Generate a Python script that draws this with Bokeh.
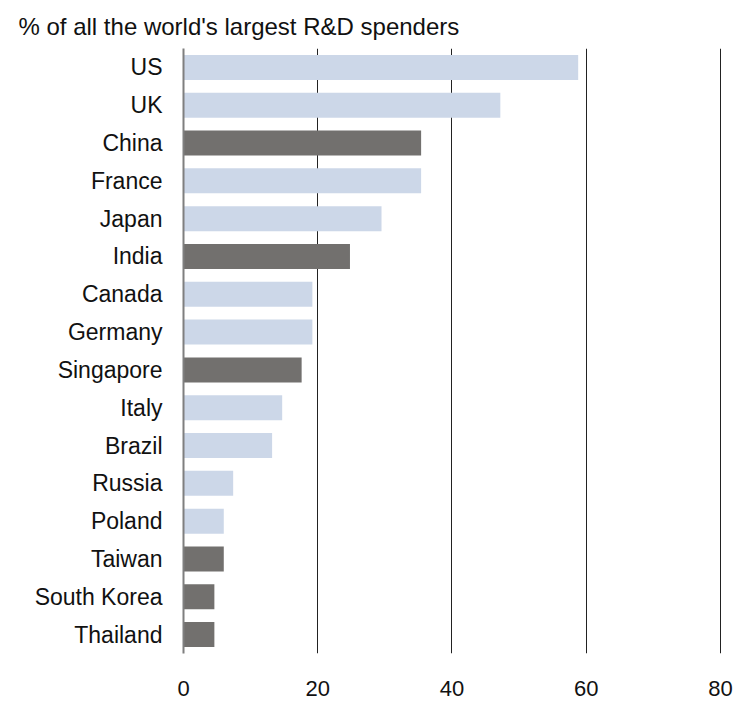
from bokeh.plotting import figure
from bokeh.models import FactorRange, ColumnDataSource, Range1d, FixedTicker
from bokeh.embed import file_html
from bokeh.resources import INLINE

countries = ["US", "UK", "China", "France", "Japan", "India", "Canada", "Germany",
             "Singapore", "Italy", "Brazil", "Russia", "Poland", "Taiwan",
             "South Korea", "Thailand"]
values = [58.8, 47.2, 35.4, 35.4, 29.5, 24.8, 19.2, 19.2, 17.6, 14.7, 13.2, 7.4, 6.0, 6.0, 4.6, 4.6]
highlight = [False, False, True, False, False, True, False, False, True, False, False, False, False, True, True, True]
x_ticks = [0, 20, 40, 60, 80]
title_text = "% of all the world's largest R&D spenders"

LIGHT = "#CCD7E8"
DARK = "#72706E"
colors = [DARK if h else LIGHT for h in highlight]

src = ColumnDataSource(dict(country=countries, value=values, color=colors))

FONT = "Liberation Sans"

p = figure(width=748, height=701, output_backend="svg", toolbar_location=None,
           y_range=FactorRange(*reversed(countries), range_padding=0),
           x_range=Range1d(0, 80.15),
           min_border_left=183, min_border_right=27, min_border_top=48, min_border_bottom=48)
p.outline_line_color = None
p.background_fill_color = "white"
p.border_fill_color = "white"

p.hbar(y="country", right="value", left=0, height=0.66, color="color",
       line_color=None, source=src)

p.title.text = title_text
p.title.align = "left"
p.title.offset = -165
p.title.standoff = 18
p.title.text_font = FONT
p.title.text_font_size = "24px"
p.title.text_font_style = "normal"
p.title.text_color = "#111111"

p.xaxis.ticker = FixedTicker(ticks=x_ticks)
p.xaxis.axis_line_color = None
p.xaxis.major_tick_line_color = None
p.xaxis.minor_tick_line_color = None
p.xaxis.major_label_text_font = FONT
p.xaxis.major_label_text_font_size = "22px"
p.xaxis.major_label_text_color = "#111111"
p.xaxis.major_label_standoff = 21

p.yaxis.axis_line_color = "#7F7F7F"
p.yaxis.axis_line_width = 2
p.yaxis.major_tick_line_color = None
p.yaxis.minor_tick_line_color = None
p.yaxis.major_label_text_font = FONT
p.yaxis.major_label_text_font_size = "23px"
p.yaxis.major_label_text_color = "#111111"
p.yaxis.major_label_standoff = 15

p.xgrid.ticker = FixedTicker(ticks=x_ticks)
p.xgrid.grid_line_color = "#222222"
p.xgrid.grid_line_width = 1
p.ygrid.grid_line_color = None

open("out.html", "w").write(file_html(p, INLINE))
